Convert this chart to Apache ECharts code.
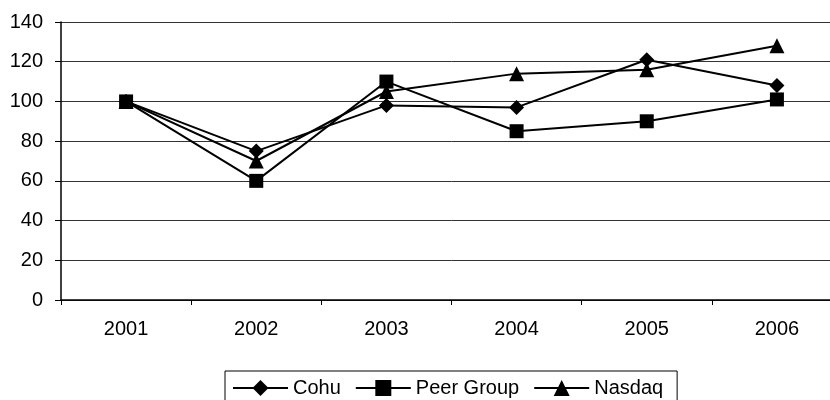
<!DOCTYPE html>
<html>
<head>
<meta charset="utf-8">
<script src="https://cdn.jsdelivr.net/npm/echarts@6/dist/echarts.min.js"></script>
<style>
html,body{margin:0;padding:0;background:#fff;overflow:hidden;width:830px;height:400px;}
#c{width:845px;height:400px;}
</style>
</head>
<body>
<div id="c"></div>
<script>
const years = ['2001','2002','2003','2004','2005','2006'];
const cohu = [100, 75, 98, 97, 121, 108];
const peerGroup = [100, 60, 110, 85, 90, 101];
const nasdaq = [100, 70, 105, 114, 116, 128];
const yTicks = [0, 20, 40, 60, 80, 100, 120, 140];

const font = {fontFamily: 'Liberation Sans, Arial, sans-serif', fontSize: 20, color: '#000'};

function lineSeries(name, data, symbol, size) {
  return {
    name: name, type: 'line', data: data,
    symbol: symbol, symbolSize: size,
    lineStyle: {color: '#000', width: 2},
    itemStyle: {color: '#000', borderWidth: 0},
    emphasis: {disabled: true},
    animation: false
  };
}

const chart = echarts.init(document.getElementById('c'), null, {renderer: 'canvas'});
chart.setOption({
  animation: false,
  backgroundColor: '#fff',
  grid: {left: 61, top: 22, width: 781, height: 278, containLabel: false},
  xAxis: {
    type: 'category', data: years, boundaryGap: true,
    axisLine: {lineStyle: {color: '#000', width: 1.5}},
    axisTick: {show: true, length: 5, lineStyle: {color: '#000', width: 1}},
    axisLabel: Object.assign({margin: 19}, font),
    splitLine: {show: false}
  },
  yAxis: {
    type: 'value', min: yTicks[0], max: yTicks[yTicks.length - 1], interval: 20,
    axisLine: {show: true, lineStyle: {color: '#000', width: 1.5}},
    axisTick: {show: true, length: 6, lineStyle: {color: '#000', width: 1}},
    axisLabel: Object.assign({margin: 18}, font),
    splitLine: {show: true, lineStyle: {color: '#333', width: 1}}
  },
  legend: {
    left: 225, top: 371,
    padding: [7, 14, 20, 7],
    borderColor: '#000', borderWidth: 1,
    itemWidth: 55, itemHeight: 20, itemGap: 14,
    textStyle: {fontFamily: 'Liberation Sans, Arial, sans-serif', fontSize: 20, color: '#000'},
    data: ['Cohu', 'Peer Group', 'Nasdaq']
  },
  series: [
    lineSeries('Cohu', cohu, 'diamond', 15),
    lineSeries('Peer Group', peerGroup, 'rect', 14),
    lineSeries('Nasdaq', nasdaq, 'triangle', 15)
  ]
});
</script>
</body>
</html>
